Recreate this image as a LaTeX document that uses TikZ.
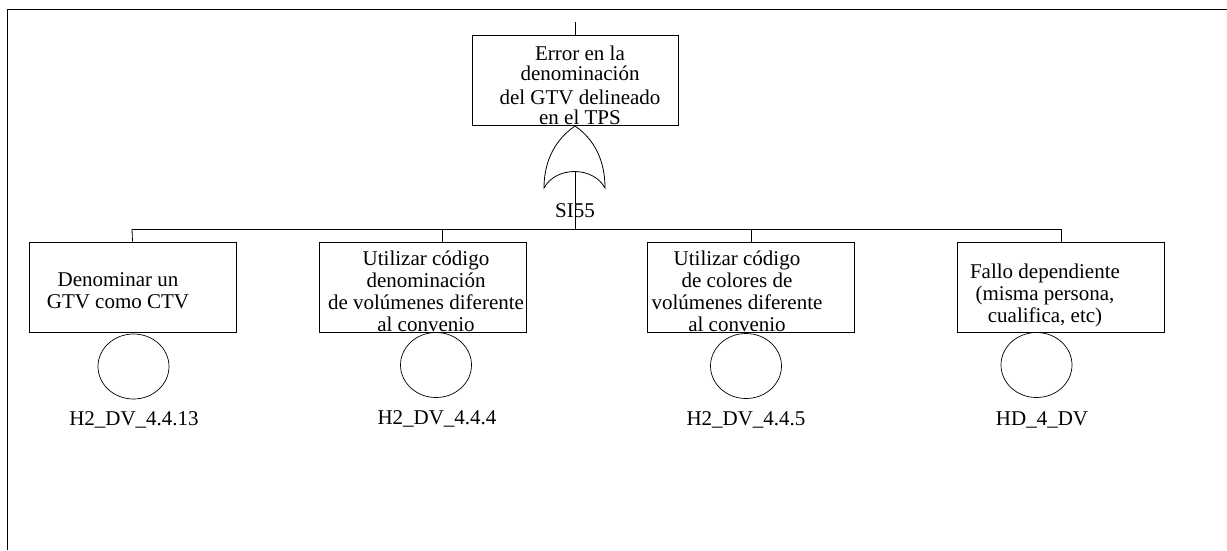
\documentclass[tikz,border=0pt]{standalone}
\usepackage{fontspec}
\setmainfont{Liberation Serif}
\usetikzlibrary{shapes.geometric}
\begin{document}
\begin{tikzpicture}[x=1pt,y=-1pt,line width=0.8pt,
  evbox/.style={draw,minimum width=207pt,minimum height=90pt,inner sep=0pt},
  basic/.style={draw,ellipse,minimum width=71pt,minimum height=65pt,inner sep=0pt,line width=0.7pt},
  txt/.style={align=center,font=\fontsize{21}{22}\selectfont,inner sep=0pt},
  lbl/.style={font=\fontsize{21}{24}\selectfont,inner sep=0pt}]
\useasboundingbox (0,0) rectangle (1227,550);
% page frame
\draw (7,550) -- (7,9) -- (1227,9);

% top event
\node[evbox,minimum width=206pt] (top) at (575,80) {};
\node[txt] (toptxt) at (580,85) {Error en la\\[-2pt]denominación\\[2pt]del GTV delineado\\[-2pt]en el TPS};
\coordinate (topin) at (575,22);
\draw (topin) -- (top.north);

% OR gate
\coordinate (gapex) at (575,126);
\coordinate (gl) at (544,188);
\coordinate (gr) at (605,188);
\coordinate (gout) at (575,172);
\draw (gapex) .. controls (556,139) and (544,160) .. (gl)
      .. controls (556,166) and (593,166) .. (gr)
      .. controls (605,160) and (594,139) .. (gapex);
\node[lbl] (gname) at (575,211) {SI55};

% bus
\coordinate (bus) at (575,229);
\coordinate (busl) at (132,229);
\coordinate (busr) at (1061,229);
\draw (gout) -- (bus);
\draw (busl) -- (busr);

% basic events
\node[evbox] (b1) at (132.5,287) {};
\node[evbox] (b2) at (422.5,287) {};
\node[evbox] (b3) at (751,287) {};
\node[evbox] (b4) at (1060.5,287) {};

\node[txt] (t1) at (118,291) {Denominar un\\GTV como CTV};
\node[txt] (t2) at (426,291.5) {Utilizar código\\denominación\\de volúmenes diferente\\al convenio};
\node[txt] (t3) at (737,291) {Utilizar código\\de colores de\\volúmenes diferente\\al convenio};
\node[txt] (t4) at (1045,295.5) {Fallo dependiente\\(misma persona,\\cualifica, etc)};

\draw (busl) -- (b1.north);
\draw (442,229) -- (442,242);
\draw (751,229) -- (b3.north);
\draw (busr) -- (1061,242);

\node[basic] (c1) at (133.5,366.5) {};
\node[basic] (c2) at (436,365) {};
\node[basic] (c3) at (746,366) {};
\node[basic] (c4) at (1036.5,365) {};

\node[lbl] (l1) at (134,420) {H2\_DV\_4.4.13};
\node[lbl] (l2) at (437,419) {H2\_DV\_4.4.4};
\node[lbl] (l3) at (746,420) {H2\_DV\_4.4.5};
\node[lbl] (l4) at (1042,420) {HD\_4\_DV};
\end{tikzpicture}
\end{document}
